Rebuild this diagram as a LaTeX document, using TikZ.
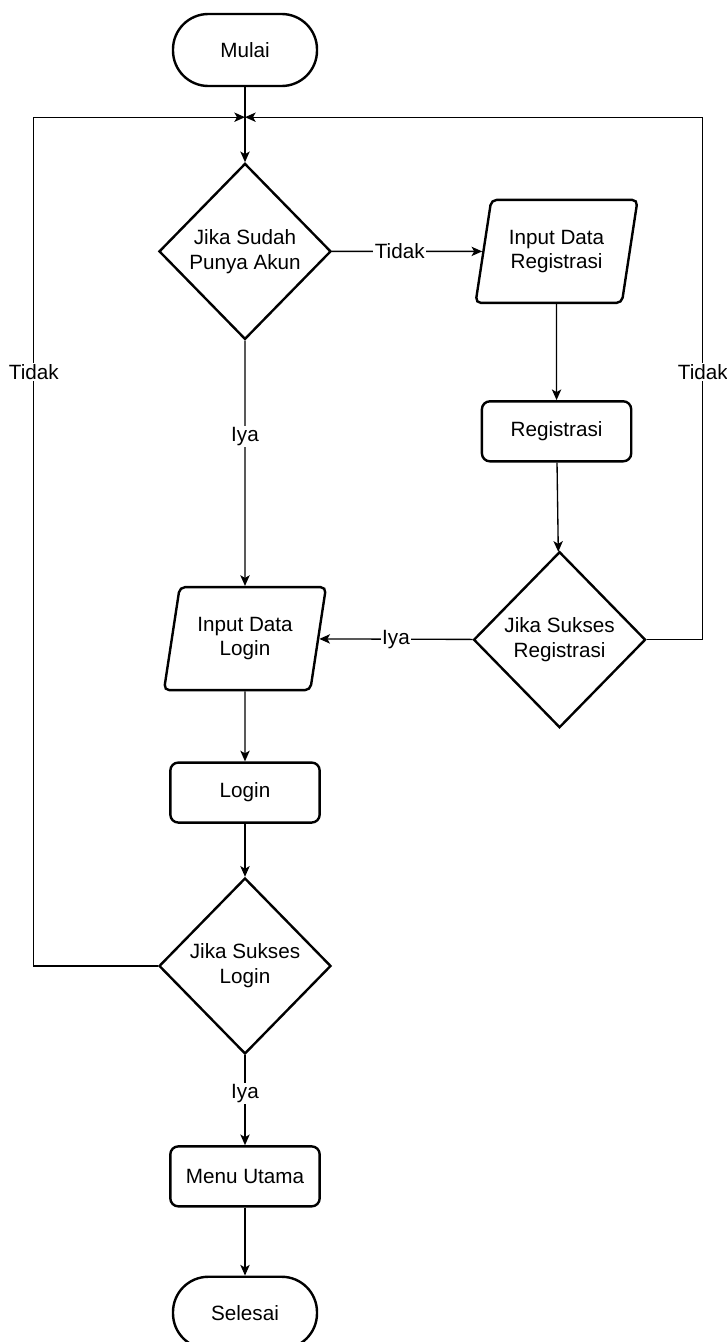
\documentclass[tikz,border=0pt]{standalone}
\usepackage{fontspec}
\setmainfont{Liberation Sans}
\usetikzlibrary{arrows.meta, positioning, shapes.geometric}
\tikzset{
  termbox/.style={draw, line width=1.8pt, rounded corners=26.5pt, align=center,
                  minimum width=108pt, minimum height=54pt, inner sep=0pt},
  procbox/.style={draw, line width=1.8pt, rounded corners=6pt, align=center,
                  minimum width=112pt, minimum height=45pt},
  iobox/.style={draw, line width=1.8pt, trapezium, trapezium left angle=70,
                trapezium right angle=110, trapezium stretches body,
                rounded corners=4pt, align=center, inner sep=0pt,
                minimum width=121.5pt, minimum height=77.25pt},
  decision/.style={draw, line width=1.8pt, diamond, aspect=1, align=center,
                   inner sep=0pt, minimum width=129pt, minimum height=132pt},
  flowarr/.style={-{Stealth[length=8pt, width=7pt, inset=2pt]}, line width=1pt},
  flowlbl/.style={fill=white, inner sep=1pt},
}
\begin{document}
\begin{tikzpicture}[x=0.75pt, y=-0.75pt,
    font=\fontsize{15.5pt}{18.5pt}\selectfont]
  \useasboundingbox (0,0) rectangle (727,1342);

  % main column
  \node[termbox] (mulai) at (245,50) {Mulai};
  \coordinate[below=22.5pt of mulai] (j);
  \node[decision, below=56.25pt of mulai] (d1) {Jika Sudah\\Punya Akun};
  \node[iobox, below=184pt of d1] (inlog) {Input Data\\Login};
  \node[procbox, below=52.5pt of inlog] (login) {Login};
  \node[decision, below=39.75pt of login] (d3) {Jika Sukses\\Login};
  \node[procbox, below=67.5pt of d3] (menu) {Menu Utama};
  \node[termbox, below=51pt of menu] (selesai) {Selesai};

  % registration column
  \node[iobox, right=112.5pt of d1] (inreg) {Input Data\\Registrasi};
  \node[procbox, below=72pt of inreg] (reg) {Registrasi};
  \node[decision, below=66pt of reg, xshift=2.25pt] (d2) {Jika Sukses\\Registrasi};

  \draw[flowarr] (mulai) -- (d1);
  \draw[flowarr] (d1) -- node[flowlbl, pos=0.45] {Tidak} (inreg);
  \draw[flowarr] (d1) -- node[flowlbl, pos=0.39] {Iya} (inlog);
  \draw[flowarr] (inreg) -- (reg);
  \draw[flowarr] (reg) -- (d2);
  \draw[flowarr] (d2) -- node[flowlbl, pos=0.5] {Iya} (inlog);
  \draw[flowarr] (inlog) -- (login);
  \draw[flowarr] (login) -- (d3);
  \draw[flowarr] (d3) -- node[flowlbl, pos=0.43] {Iya} (menu);
  \draw[flowarr] (menu) -- (selesai);

  % loops back to the start
  \draw[flowarr] (d3.west) -- ++(-124,0) |- node[flowlbl, pos=0.35] {Tidak} (j);
  \draw[flowarr] (d2.east) -- ++(56,0) |- node[flowlbl, pos=0.256] {Tidak} (j);
\end{tikzpicture}
\end{document}
